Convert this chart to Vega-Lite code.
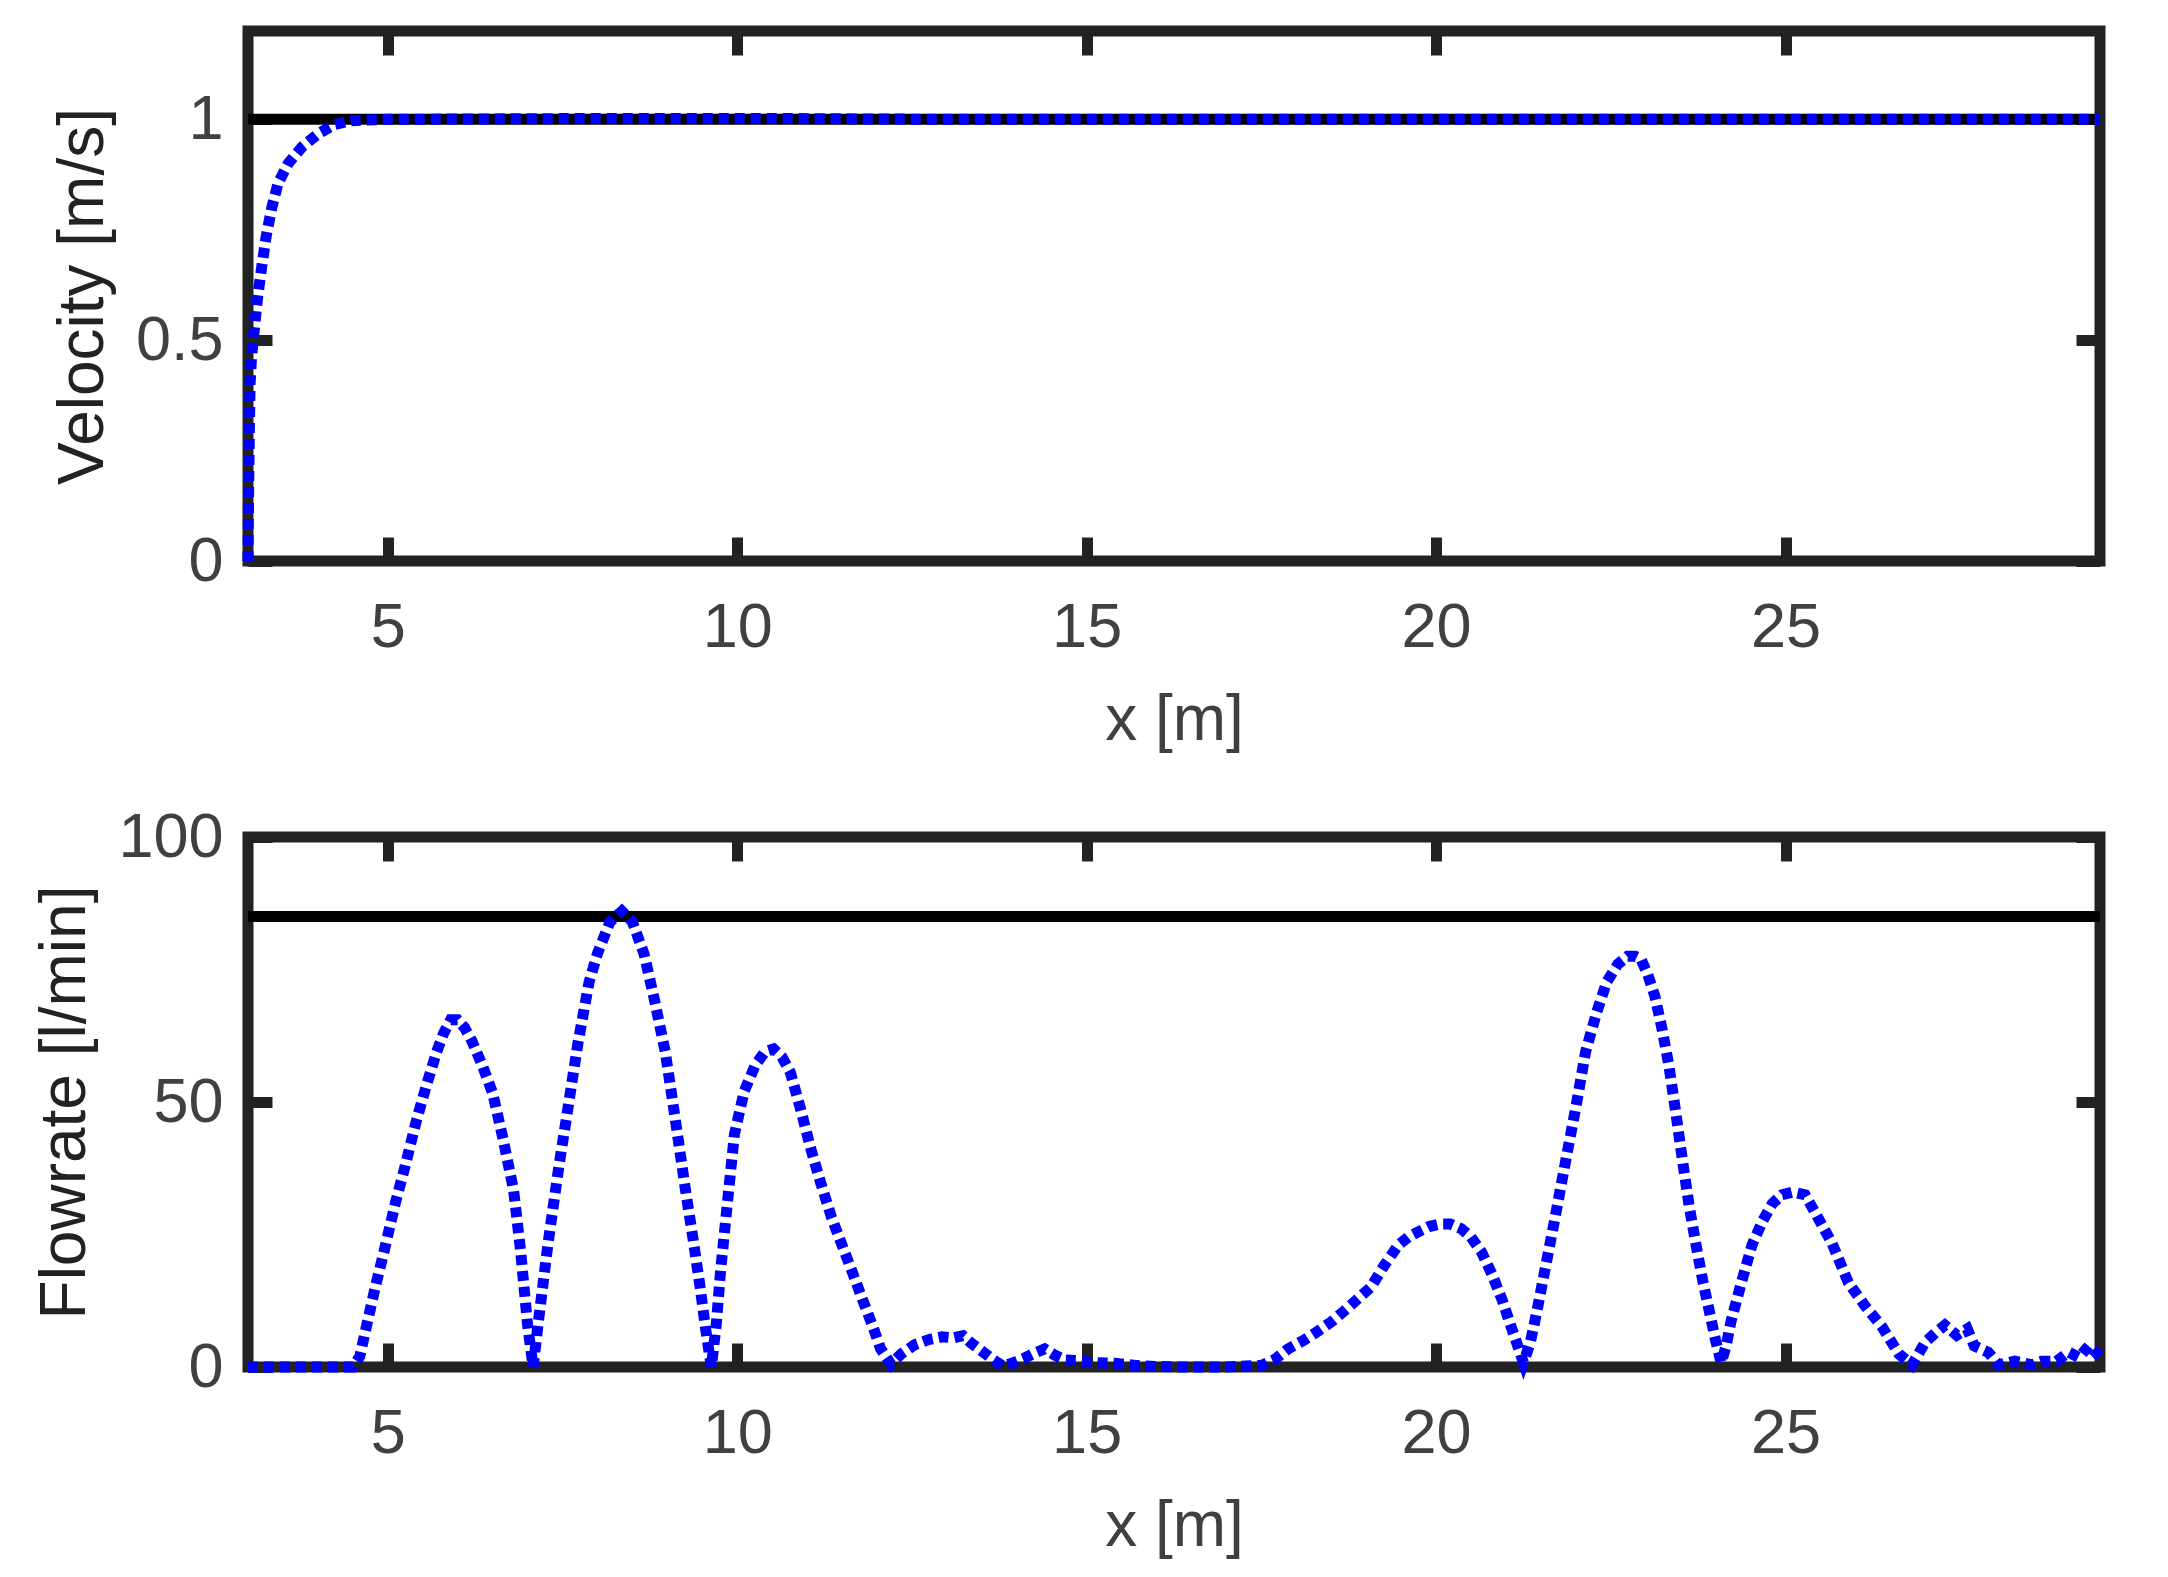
{
  "$schema": "https://vega.github.io/schema/vega-lite/v6.json",
  "background": "white",
  "padding": {"left": 28, "top": 20, "right": 0, "bottom": 0},
  "config": {
    "font": "Liberation Sans",
    "view": {"stroke": "#222222", "strokeWidth": 11},
    "axis": {
      "domain": false,
      "grid": false,
      "tickColor": "#222222",
      "tickWidth": 11,
      "tickSize": -24,
      "labelFontSize": 63,
      "labelColor": "#404040",
      "labelFlush": false,
      "labelOverlap": false,
      "titleFontSize": 64,
      "titleFontWeight": "normal",
      "titleColor": "#222222",
      "format": ".1~f"
    }
  },
  "datasets": {
    "ref1": [{"x": 3, "v": 1}, {"x": 29.5, "v": 1}],
    "vel": [
      {"x": 3.0, "v": 0}, {"x": 3.005, "v": 0.1}, {"x": 3.012, "v": 0.2}, {"x": 3.02, "v": 0.3}, {"x": 3.03, "v": 0.4},
      {"x": 3.05, "v": 0.46}, {"x": 3.075, "v": 0.5}, {"x": 3.1, "v": 0.54}, {"x": 3.14, "v": 0.6}, {"x": 3.2, "v": 0.67},
      {"x": 3.26, "v": 0.735}, {"x": 3.34, "v": 0.8}, {"x": 3.43, "v": 0.855}, {"x": 3.575, "v": 0.9}, {"x": 3.77, "v": 0.937},
      {"x": 4.0, "v": 0.967}, {"x": 4.24, "v": 0.988}, {"x": 4.48, "v": 0.997}, {"x": 5.0, "v": 1.0}, {"x": 8.0, "v": 1.002},
      {"x": 10.5, "v": 1.002}, {"x": 13.0, "v": 1.0}, {"x": 29.5, "v": 1.0}
    ],
    "ref2": [{"x": 3, "q": 85}, {"x": 29.5, "q": 85}],
    "flow": [
      {"x": 3, "q": 0}, {"x": 3.5, "q": 0}, {"x": 4.0, "q": 0}, {"x": 4.5, "q": 0}, {"x": 4.6, "q": 2}, {"x": 4.7, "q": 8},
      {"x": 4.82, "q": 15}, {"x": 4.95, "q": 22}, {"x": 5.11, "q": 31}, {"x": 5.25, "q": 38}, {"x": 5.41, "q": 46.5},
      {"x": 5.55, "q": 53}, {"x": 5.7, "q": 59.5}, {"x": 5.8, "q": 63}, {"x": 5.9, "q": 65.5}, {"x": 6.0, "q": 65.5},
      {"x": 6.1, "q": 64}, {"x": 6.2, "q": 61.6}, {"x": 6.35, "q": 57}, {"x": 6.5, "q": 51.7}, {"x": 6.65, "q": 43},
      {"x": 6.8, "q": 33.4}, {"x": 6.9, "q": 22}, {"x": 7.0, "q": 8}, {"x": 7.08, "q": 0}, {"x": 7.15, "q": 8},
      {"x": 7.29, "q": 23}, {"x": 7.45, "q": 38}, {"x": 7.58, "q": 49}, {"x": 7.72, "q": 61}, {"x": 7.88, "q": 72.6},
      {"x": 8.0, "q": 78}, {"x": 8.18, "q": 84}, {"x": 8.35, "q": 86}, {"x": 8.5, "q": 84}, {"x": 8.67, "q": 77.8},
      {"x": 8.82, "q": 69}, {"x": 8.97, "q": 59.5}, {"x": 9.1, "q": 48}, {"x": 9.26, "q": 33.4}, {"x": 9.37, "q": 24},
      {"x": 9.47, "q": 15}, {"x": 9.55, "q": 7}, {"x": 9.63, "q": 0}, {"x": 9.7, "q": 8}, {"x": 9.76, "q": 17.8},
      {"x": 9.86, "q": 31}, {"x": 9.96, "q": 43.9}, {"x": 10.1, "q": 52}, {"x": 10.26, "q": 57}, {"x": 10.4, "q": 59.5},
      {"x": 10.52, "q": 60}, {"x": 10.64, "q": 58.5}, {"x": 10.76, "q": 55.6}, {"x": 10.9, "q": 49}, {"x": 11.05, "q": 41.3},
      {"x": 11.2, "q": 34.5}, {"x": 11.35, "q": 28.2}, {"x": 11.5, "q": 23}, {"x": 11.65, "q": 17.8}, {"x": 11.8, "q": 12.5},
      {"x": 11.95, "q": 7.3}, {"x": 12.05, "q": 3.5}, {"x": 12.2, "q": 0.5}, {"x": 12.35, "q": 2.5}, {"x": 12.54, "q": 4.2},
      {"x": 12.75, "q": 5.2}, {"x": 12.93, "q": 5.7}, {"x": 13.1, "q": 5.5}, {"x": 13.23, "q": 5.9}, {"x": 13.35, "q": 4.5},
      {"x": 13.5, "q": 3.0}, {"x": 13.65, "q": 1.5}, {"x": 13.8, "q": 0.2}, {"x": 13.95, "q": 0.8}, {"x": 14.1, "q": 1.6},
      {"x": 14.25, "q": 2.6}, {"x": 14.4, "q": 3.4}, {"x": 14.55, "q": 2.2}, {"x": 14.7, "q": 1.3}, {"x": 14.9, "q": 1.2},
      {"x": 15.1, "q": 0.8}, {"x": 15.4, "q": 0.7}, {"x": 15.7, "q": 0.3}, {"x": 16.0, "q": 0.1}, {"x": 16.3, "q": 0},
      {"x": 17.0, "q": 0}, {"x": 17.5, "q": 0.3}, {"x": 17.7, "q": 1.5}, {"x": 17.88, "q": 3.4}, {"x": 18.1, "q": 5},
      {"x": 18.28, "q": 6.5}, {"x": 18.5, "q": 8.5}, {"x": 18.67, "q": 10.4}, {"x": 18.85, "q": 12.5}, {"x": 19.07, "q": 15.1},
      {"x": 19.25, "q": 19}, {"x": 19.46, "q": 23}, {"x": 19.6, "q": 24.5}, {"x": 19.76, "q": 25.6}, {"x": 19.9, "q": 26.5},
      {"x": 20.06, "q": 27}, {"x": 20.2, "q": 27}, {"x": 20.36, "q": 26.1}, {"x": 20.5, "q": 24.5}, {"x": 20.65, "q": 21.7},
      {"x": 20.8, "q": 17.5}, {"x": 20.95, "q": 12.5}, {"x": 21.05, "q": 8.5}, {"x": 21.15, "q": 4.7}, {"x": 21.25, "q": 0.8},
      {"x": 21.35, "q": 4.7}, {"x": 21.45, "q": 11}, {"x": 21.55, "q": 17.8}, {"x": 21.7, "q": 28}, {"x": 21.85, "q": 38.6},
      {"x": 22.0, "q": 49}, {"x": 22.14, "q": 59.5}, {"x": 22.3, "q": 67}, {"x": 22.44, "q": 72.6}, {"x": 22.6, "q": 76},
      {"x": 22.74, "q": 77.5}, {"x": 22.85, "q": 77.5}, {"x": 22.93, "q": 77}, {"x": 23.03, "q": 74}, {"x": 23.13, "q": 70},
      {"x": 23.23, "q": 64}, {"x": 23.33, "q": 57}, {"x": 23.43, "q": 48}, {"x": 23.53, "q": 38.6}, {"x": 23.62, "q": 30.5},
      {"x": 23.72, "q": 23}, {"x": 23.82, "q": 16}, {"x": 23.92, "q": 9.9}, {"x": 24.0, "q": 5}, {"x": 24.08, "q": 0.8},
      {"x": 24.15, "q": 4}, {"x": 24.22, "q": 8.6}, {"x": 24.37, "q": 16}, {"x": 24.52, "q": 23}, {"x": 24.67, "q": 27.5},
      {"x": 24.81, "q": 30.8}, {"x": 24.95, "q": 32.5}, {"x": 25.11, "q": 33}, {"x": 25.28, "q": 32.5}, {"x": 25.45, "q": 28.5},
      {"x": 25.66, "q": 23.5}, {"x": 25.9, "q": 15.9}, {"x": 26.14, "q": 11.5}, {"x": 26.38, "q": 7.6}, {"x": 26.62, "q": 2.5},
      {"x": 26.81, "q": 0.4}, {"x": 27.0, "q": 4.7}, {"x": 27.15, "q": 6.5}, {"x": 27.28, "q": 7.9}, {"x": 27.45, "q": 6},
      {"x": 27.6, "q": 7.2}, {"x": 27.7, "q": 4}, {"x": 27.9, "q": 2.8}, {"x": 28.05, "q": 0.4}, {"x": 28.28, "q": 1.1},
      {"x": 28.53, "q": 0.4}, {"x": 28.67, "q": 1.1}, {"x": 28.88, "q": 1.1}, {"x": 29.05, "q": 2.8}, {"x": 29.2, "q": 1.8},
      {"x": 29.34, "q": 4}, {"x": 29.46, "q": 2.5}, {"x": 29.5, "q": 2}
    ]
  },
  "bounds": "flush",
  "spacing": 276,
  "vconcat": [
    {
      "width": 1852,
      "height": 530,
      "layer": [
        {
          "data": {"name": "ref1"},
          "mark": {"type": "line", "color": "#000000", "strokeWidth": 11, "strokeCap": "butt"},
          "encoding": {
            "x": {"field": "x", "type": "quantitative", "scale": {"domain": [3, 29.5], "nice": false, "zero": false},
                  "axis": {"orient": "bottom", "values": [5, 10, 15, 20, 25], "title": "x [m]", "titleColor": "#404040", "labelPadding": 59, "titlePadding": 29}},
            "y": {"field": "v", "type": "quantitative", "scale": {"domain": [0, 1.2], "nice": false, "zero": false},
                  "axis": {"orient": "left", "values": [0, 0.5, 1], "title": "Velocity [m/s]", "labelPadding": 49, "titlePadding": 20}}
          }
        },
        {
          "data": {"name": "vel"},
          "mark": {"type": "line", "color": "#0000ff", "strokeWidth": 11, "strokeDash": [10, 6], "strokeCap": "butt"},
          "encoding": {
            "x": {"field": "x", "type": "quantitative", "axis": {"orient": "top", "values": [5, 10, 15, 20, 25], "labels": false, "title": null}},
            "y": {"field": "v", "type": "quantitative", "axis": {"orient": "right", "values": [0, 0.5, 1], "labels": false, "title": null}}
          }
        }
      ],
      "resolve": {"axis": {"x": "independent", "y": "independent"}}
    },
    {
      "width": 1852,
      "height": 530,
      "layer": [
        {
          "data": {"name": "ref2"},
          "mark": {"type": "line", "color": "#000000", "strokeWidth": 11, "strokeCap": "butt"},
          "encoding": {
            "x": {"field": "x", "type": "quantitative", "scale": {"domain": [3, 29.5], "nice": false, "zero": false},
                  "axis": {"orient": "bottom", "values": [5, 10, 15, 20, 25], "title": "x [m]", "titleColor": "#404040", "labelPadding": 59, "titlePadding": 29}},
            "y": {"field": "q", "type": "quantitative", "scale": {"domain": [0, 100], "nice": false, "zero": false},
                  "axis": {"orient": "left", "values": [0, 50, 100], "title": "Flowrate [l/min]", "labelPadding": 49, "titlePadding": 20}}
          }
        },
        {
          "data": {"name": "flow"},
          "mark": {"type": "line", "color": "#0000ff", "strokeWidth": 11, "strokeDash": [10, 6], "strokeCap": "butt"},
          "encoding": {
            "x": {"field": "x", "type": "quantitative", "axis": {"orient": "top", "values": [5, 10, 15, 20, 25], "labels": false, "title": null}},
            "y": {"field": "q", "type": "quantitative", "axis": {"orient": "right", "values": [0, 50, 100], "labels": false, "title": null}}
          }
        }
      ],
      "resolve": {"axis": {"x": "independent", "y": "independent"}}
    }
  ]
}
